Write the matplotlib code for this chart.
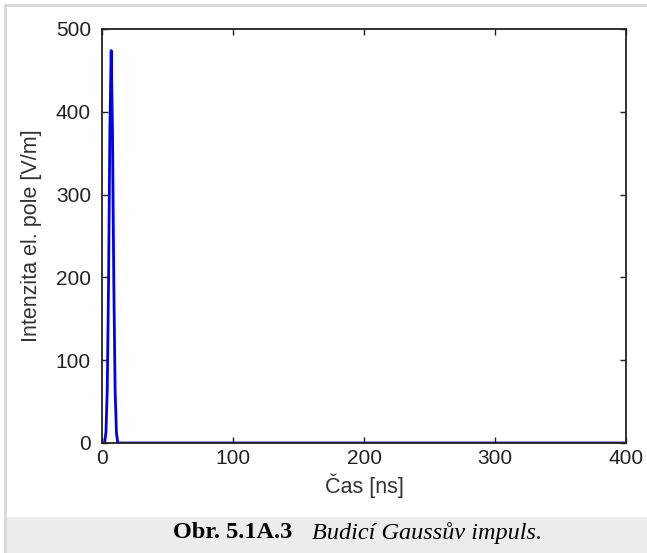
import matplotlib
matplotlib.use("Agg")
import matplotlib.pyplot as plt
from matplotlib.patches import Rectangle
from matplotlib.lines import Line2D

# data (Gaussian pulse, peak ~7 ns)
t_ns = [0, 2, 3, 4, 5, 6, 7, 8, 9, 10, 11, 12, 400]
e_field = [0, 0, 13, 64, 194, 378, 474, 378, 194, 64, 13, 0, 0]

xticks = [0, 100, 200, 300, 400]
yticks = [0, 100, 200, 300, 400, 500]

W, H = 647, 553
fig = plt.figure(figsize=(W / 100, H / 100), dpi=100)
fig.patch.set_facecolor('white')

# caption band + page border
fig.patches.append(Rectangle((5 / W, 0), 1, 36 / H, transform=fig.transFigure,
                             facecolor='#ececec', edgecolor='none', zorder=0))
fig.lines.append(Line2D([4.5 / W, 4.5 / W], [0, 1 - 5 / H], transform=fig.transFigure,
                        color='#d8d8d8', lw=2))
fig.lines.append(Line2D([4.5 / W, 1], [1 - 5 / H, 1 - 5 / H], transform=fig.transFigure,
                        color='#d8d8d8', lw=2))

ax = fig.add_axes([102 / W, 110 / H, 524 / W, 414 / H])
ax.plot(t_ns, e_field, color='#0000ee', linewidth=2)

ax.set_xlim(0, 400)
ax.set_ylim(0, 500)
ax.set_xticks(xticks)
ax.set_yticks(yticks)
ax.tick_params(direction='in', length=4, width=1, top=True, right=True,
               labelsize=15, colors='#222222')
ax.tick_params(axis='y', pad=8)
ax.tick_params(axis='x', pad=4)
for s in ax.spines.values():
    s.set_linewidth(1.3)
    s.set_color('#222222')
for lab in ax.get_xticklabels() + ax.get_yticklabels():
    lab.set_fontfamily('Liberation Sans')

ax.set_xlabel('Čas [ns]', fontsize=15.5, family='Liberation Sans', color='#333333', labelpad=4)
ax.set_ylabel('Intenzita el. pole [V/m]', fontsize=15.5, family='Liberation Sans',
              color='#333333', labelpad=10)

fig.text(292 / W, 20 / H, 'Obr. 5.1A.3', fontsize=17.5, fontweight='bold',
         family='Liberation Serif', ha='right', va='center')
fig.text(312 / W, 20 / H, 'Budicí Gaussův impuls.', fontsize=17.5, fontstyle='italic',
         family='Liberation Serif', ha='left', va='center')

fig.savefig('out.png', dpi=100)
